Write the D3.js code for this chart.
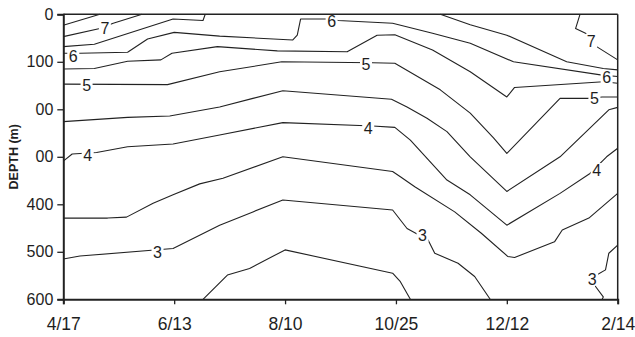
<!DOCTYPE html>
<html>
<head>
<meta charset="utf-8">
<script src="https://cdn.jsdelivr.net/npm/d3@7"></script>
<style>
  body { margin: 0; background: #fff; }
  text { font-family: "Liberation Sans", Arial, sans-serif; fill: #1e1e1e; }
</style>
</head>
<body>
<div id="chart"></div>
<script>
// x axis: sampling dates (evenly spaced), y axis: depth in m
const dates = ["4/17", "6/13", "8/10", "10/25", "12/12", "2/14"];
const depthTicks = [0, 100, 200, 300, 400, 500, 600];
const depthTickLabels = ["0", "100", "00", "00", "400", "500", "600"];

// contour lines, points are [date index, depth]
const c75 = [[0, 23], [0.33, 0]];
const c7 = [[0, 47], [0.33, 30], [0.45, 19], [0.71, 0]];
const c65 = [[0, 68], [0.28, 63], [0.99, 10], [1.26, 13], [1.28, 0]];
const c6 = [[0, 82], [0.15, 82], [0.58, 80], [0.76, 52], [1.0, 38], [1.41, 46], [2.07, 54], [2.11, 44], [2.14, 10],
  [2.39, 10], [2.48, 13], [2.97, 19], [3.33, 40], [3.67, 61], [4.06, 100], [4.86, 128], [5, 131]];
const c55 = [[0, 115], [0.28, 114], [0.58, 99], [0.88, 96], [0.98, 82], [1.39, 68], [1.93, 77], [2.56, 79], [2.83, 44],
  [2.99, 43], [3.33, 75], [3.67, 121], [4.0, 174], [4.07, 154], [4.87, 142], [5, 145]];
const c5 = [[0, 147], [0.94, 148], [1.41, 121], [1.97, 100], [2.79, 102], [2.99, 103], [3.4, 159], [3.67, 208],
  [3.88, 260], [4.0, 293], [4.48, 177], [4.73, 177], [4.86, 174], [5, 174]];
const c45 = [[0, 226], [0.58, 217], [0.96, 214], [1.41, 195], [1.71, 177], [1.98, 161], [2.96, 179], [3.1, 195],
  [3.28, 219], [3.46, 247], [3.67, 300], [4.0, 373], [4.48, 300], [4.92, 201], [5, 196]];
const c4 = [[0, 309], [0.08, 294], [0.3, 291], [0.58, 279], [0.99, 273], [1.41, 254], [1.98, 228], [2.79, 235],
  [2.99, 238], [3.13, 265], [3.46, 349], [3.67, 380], [4.0, 444], [4.48, 377], [4.75, 335], [4.9, 300], [5, 282]];
const c35 = [[0, 429], [0.4, 429], [0.57, 427], [0.81, 398], [0.99, 380], [1.23, 357], [1.44, 345], [1.98, 300],
  [2.97, 331], [3.04, 342], [3.17, 363], [3.53, 416], [3.77, 461], [4.01, 510], [4.07, 512], [4.43, 479],
  [4.5, 454], [4.74, 429], [5, 377]];
const c3 = [[0, 515], [0.15, 509], [0.99, 493], [1.41, 444], [1.71, 416], [1.98, 391], [2.97, 412], [3.1, 451],
  [3.29, 475], [3.35, 503], [3.56, 524], [3.71, 552], [3.85, 600]];
const c3b = [[5, 486], [4.92, 503], [4.89, 538], [4.81, 549], [4.8, 573], [4.87, 595], [4.86, 600]];
const c25 = [[1.26, 600], [1.48, 549], [1.68, 535], [2.0, 496], [2.97, 545], [3.04, 563], [3.13, 600]];
const c65b = [[3.4, 0], [3.67, 22], [4.0, 44], [4.54, 100], [4.87, 114], [5, 117]];
const c7b = [[4.66, 0], [4.62, 30], [4.71, 40], [4.81, 68], [5, 96]];

const contours = [c75, c7, c65, c6, c55, c5, c45, c4, c35, c3, c3b, c25, c65b, c7b];

// inline contour labels: [text, date index, depth]
const contourLabels = [
  ["7", 0.375, 30], ["6", 0.09, 89], ["5", 0.21, 150], ["4", 0.22, 297], ["3", 0.85, 501],
  ["6", 2.42, 15], ["5", 2.73, 105], ["4", 2.75, 239], ["3", 3.24, 465],
  ["7", 4.76, 56], ["6", 4.9, 133], ["5", 4.79, 177], ["4", 4.81, 328], ["3", 4.77, 557]
];

var width = 635, height = 337;
var margin = {top: 14.3, right: 17.3, bottom: 37.7, left: 63.3};

var svg = d3.select("#chart").append("svg")
  .attr("width", width)
  .attr("height", height);

var x = d3.scaleLinear().domain([0, dates.length - 1]).range([margin.left, width - margin.right]);
var y = d3.scaleLinear().domain([0, 600]).range([margin.top, height - margin.bottom]);

var line = d3.line()
  .x(function(d) { return x(d[0]); })
  .y(function(d) { return y(d[1]); });

// contour lines
svg.append("g")
  .selectAll("path")
  .data(contours)
  .enter()
  .append("path")
    .attr("d", line)
    .attr("fill", "none")
    .attr("stroke", "#222")
    .attr("stroke-width", 1.1)
    .attr("stroke-linejoin", "round");

// labels sit in a gap cut out of the line
var lab = svg.append("g")
  .selectAll("g")
  .data(contourLabels)
  .enter()
  .append("g")
    .attr("transform", function(d) { return "translate(" + x(d[1]) + "," + y(d[2]) + ")"; });
lab.append("rect")
  .attr("x", -6).attr("y", -7).attr("width", 12).attr("height", 14)
  .attr("fill", "#fff");
lab.append("text")
  .text(function(d) { return d[0]; })
  .attr("text-anchor", "middle")
  .attr("dy", "0.36em")
  .style("font-size", "16px");

// frame
var x0 = x.range()[0], x1 = x.range()[1], y0 = y.range()[0], y1 = y.range()[1];
svg.append("line").attr("x1", x0).attr("x2", x1).attr("y1", y0).attr("y2", y0)
  .attr("stroke", "#222").attr("stroke-width", 1.5);
svg.append("line").attr("x1", x1).attr("x2", x1).attr("y1", y0).attr("y2", y1)
  .attr("stroke", "#222").attr("stroke-width", 1.5);

// axes
var xAxis = svg.append("g")
  .attr("transform", "translate(0," + y1 + ")")
  .call(d3.axisBottom(x)
    .tickValues(d3.range(dates.length))
    .tickFormat(function(i) { return dates[i]; })
    .tickSize(5)
    .tickPadding(13));
var yAxis = svg.append("g")
  .attr("transform", "translate(" + x0 + ",0)")
  .call(d3.axisLeft(y)
    .tickValues(depthTicks)
    .tickFormat(function(d, i) { return depthTickLabels[i]; })
    .tickSize(6)
    .tickPadding(4));

[xAxis, yAxis].forEach(function(ax) {
  ax.select(".domain").attr("stroke", "#222").attr("stroke-width", 2);
  ax.selectAll(".tick line").attr("stroke", "#222").attr("stroke-width", 1.3);
  ax.selectAll(".tick text").attr("fill", "#1e1e1e").style("font-family", "'Liberation Sans', Arial, sans-serif");
});
xAxis.selectAll(".tick text").style("font-size", "17.5px");
yAxis.selectAll(".tick text").style("font-size", "16px");

// axis title
svg.append("text")
  .attr("transform", "translate(14," + (y0 + y1) / 2 + ") rotate(-90)")
  .attr("text-anchor", "middle")
  .attr("dy", "0.35em")
  .style("font-size", "12.5px")
  .style("font-weight", "bold")
  .text("DEPTH (m)");
</script>
</body>
</html>
